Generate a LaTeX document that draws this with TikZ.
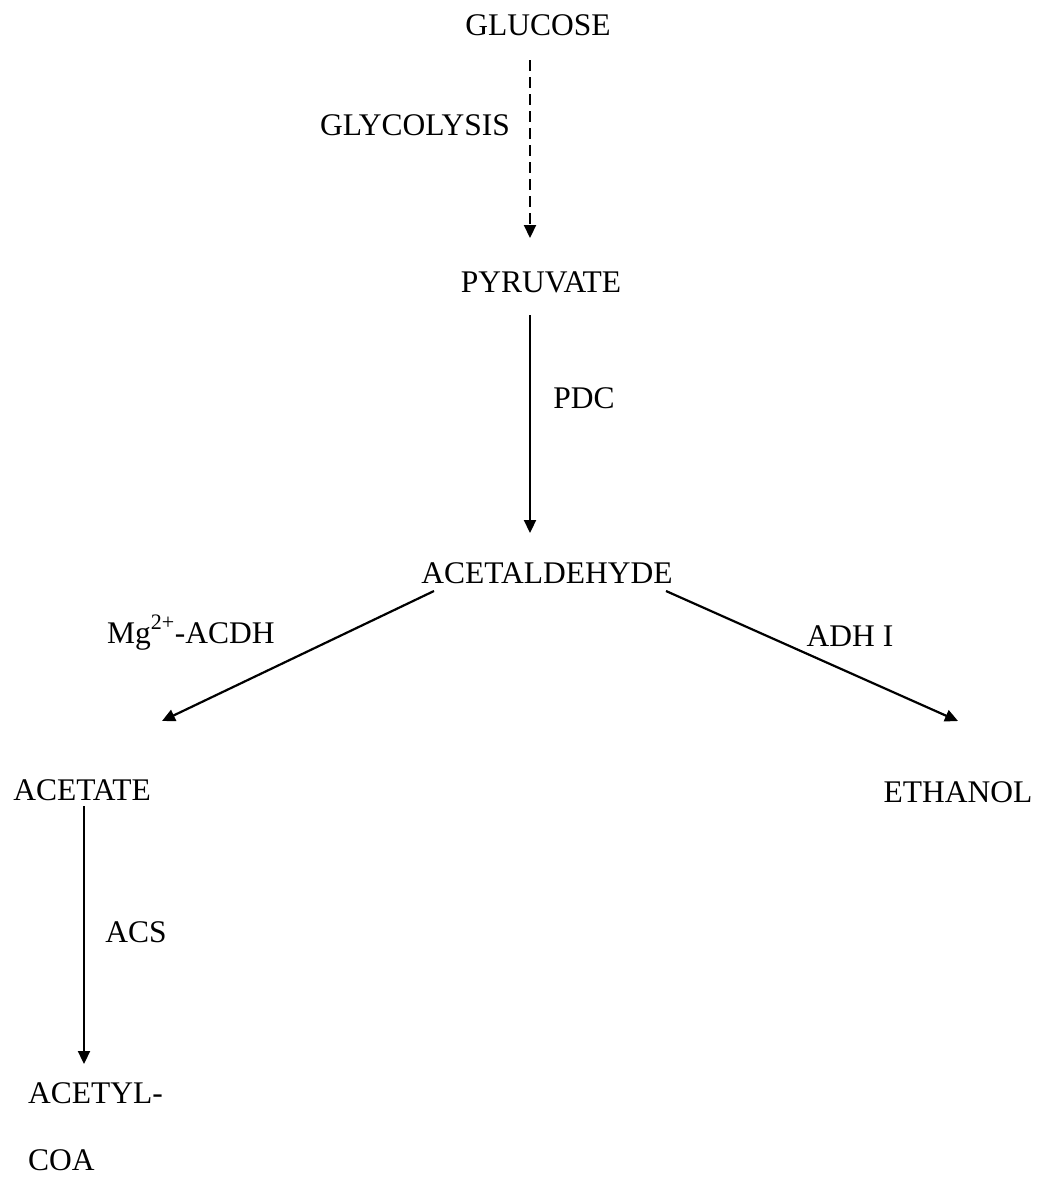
\documentclass[tikz,border=0pt]{standalone}
\usepackage{fontspec}
\setmainfont{Liberation Serif}
\usetikzlibrary{arrows.meta}
\begin{document}
\begin{tikzpicture}[x=1pt,y=-1pt,
  lbl/.style={inner sep=0pt, font=\fontsize{31.5}{38}\selectfont},
  arr/.style={line width=2.2pt, -{Triangle[length=13pt,width=12pt]}},
  dsh/.style={arr, dash pattern=on 11pt off 6pt}]
\useasboundingbox (0,0) rectangle (1040,1178);
\node[lbl] (glu) at (538,25) {GLUCOSE};
\node[lbl, anchor=east] (gly) at (510,125) {GLYCOLYSIS};
\node[lbl] (pyr) at (541,282) {PYRUVATE};
\node[lbl] (pdc) at (584,398) {PDC};
\node[lbl] (ald) at (547,573) {ACETALDEHYDE};
\node[lbl, anchor=base west] (mg) at (107,643) {Mg\raisebox{4pt}{\textsuperscript{2+}}-ACDH};
\node[lbl] (adh) at (850,636) {ADH I};
\node[lbl] (ace) at (82,790) {ACETATE};
\node[lbl] (eth) at (958,792) {ETHANOL};
\node[lbl] (acs) at (136,932) {ACS};
\node[lbl, anchor=west] (acy) at (28,1093) {ACETYL-};
\node[lbl, anchor=west] (coa) at (28,1160) {COA};
\coordinate (g1) at (530,60);
\coordinate (p0) at (530,238);
\coordinate (p1) at (530,315);
\coordinate (a0) at (530,533);
\coordinate (aL) at (434,591);
\coordinate (aR) at (666,591);
\coordinate (c0) at (162,721);
\coordinate (e0) at (958,721);
\coordinate (c1) at (84,806);
\coordinate (y0) at (84,1064);
\draw[dsh] (g1) -- (p0);
\draw[arr] (p1) -- (a0);
\draw[arr] (aL) -- (c0);
\draw[arr] (aR) -- (e0);
\draw[arr] (c1) -- (y0);
\end{tikzpicture}
\end{document}
